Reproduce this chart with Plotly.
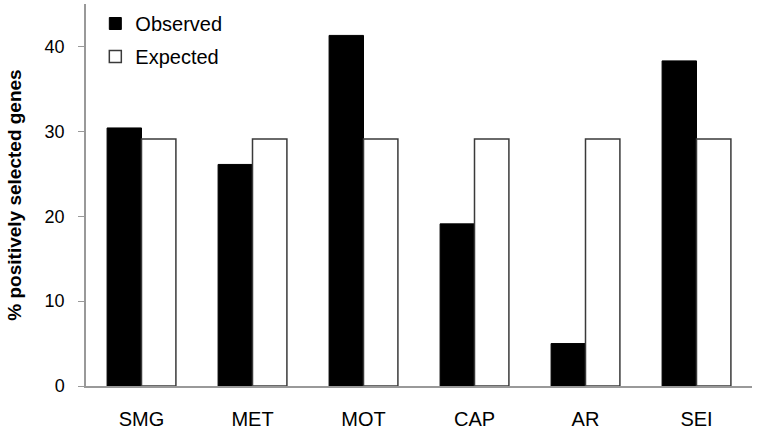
import plotly.graph_objects as go

categories = ["SMG", "MET", "MOT", "CAP", "AR", "SEI"]
observed = [30.4, 26.1, 41.3, 19.1, 5.0, 38.3]
expected = [29.1, 29.1, 29.1, 29.1, 29.1, 29.1]
y_ticks = [0, 10, 20, 30, 40]

fig = go.Figure()
fig.add_trace(go.Bar(name="Observed", x=categories, y=observed,
                     marker=dict(color="black", line=dict(color="black", width=1)),
                     legendgroup="a"))
fig.add_trace(go.Bar(name="Expected", x=categories, y=expected,
                     marker=dict(color="white", line=dict(color="#3a3a3a", width=1.5)),
                     legendgroup="b"))

font_family = "Liberation Sans, Arial, sans-serif"
fig.update_layout(
    width=758, height=431,
    margin=dict(l=86, r=6, t=4, b=45),
    plot_bgcolor="white", paper_bgcolor="white",
    barmode="group", bargap=0.38, bargroupgap=0,
    font=dict(family=font_family, color="black"),
    legend=dict(x=0.014, y=1.0, xanchor="left", yanchor="top",
                font=dict(size=20, family=font_family),
                traceorder="grouped", tracegroupgap=4,
                bgcolor="rgba(0,0,0,0)", itemwidth=30),
    showlegend=True,
)
fig.update_xaxes(showline=True, linecolor="#999999", linewidth=1.5,
                 tickfont=dict(size=20), ticks="", showgrid=False,
                 ticklabelstandoff=14, automargin=False)
fig.update_yaxes(range=[0, 45], tickvals=y_ticks, showline=True,
                 linecolor="#999999", linewidth=1.5, ticks="outside",
                 ticklen=6, tickcolor="#999999", showgrid=False, zeroline=False,
                 tickfont=dict(size=18), ticklabelstandoff=10, automargin=False,
                 title=dict(text="<b>% positively selected genes</b>",
                            font=dict(size=19), standoff=18))

fig.write_html("out.html", config={"displayModeBar": False},
               post_script="document.body.style.margin='0';window.dispatchEvent(new Event('resize'));")
